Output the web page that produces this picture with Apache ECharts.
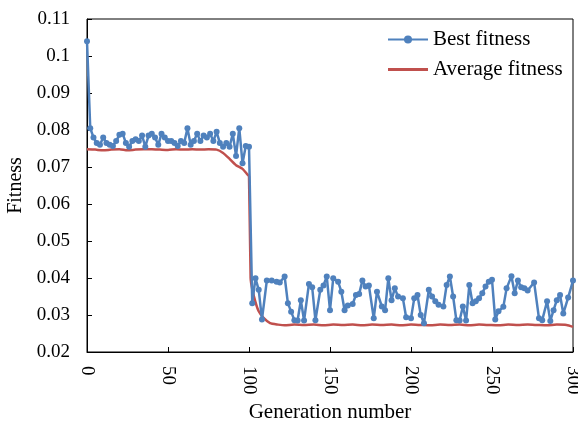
<!DOCTYPE html>
<html>
<head>
    <meta charset="utf-8">
    <title>Fitness</title>
    <script type="text/javascript" src="https://cdn.jsdelivr.net/npm/echarts@6/dist/echarts.min.js"></script>
</head>
<body style="margin:0">
    <div id="main" style="width: 578px;height:426px;"></div>
    <script type="text/javascript">
        // best fitness
        var bestGen = [0, 2, 4, 6, 8, 10, 12, 14, 16, 18, 20, 22, 24, 26, 28, 30, 32, 34, 36, 38, 40, 42, 44, 46, 48,
            50, 52, 54, 56, 58, 60, 62, 64, 66, 68, 70, 72, 74, 76, 78, 80, 82, 84, 86, 88, 90, 92, 94, 96, 98, 100,
            102, 104, 106, 108, 111, 114, 117, 119, 122, 124, 126, 128, 130, 132, 134, 137, 139, 141, 144, 146,
            148, 150, 152, 155, 157, 159, 161, 164, 166, 168, 170, 172, 174, 177, 179, 182, 184, 186, 188, 190, 192, 195, 197,
            200, 202, 204, 206, 208, 211, 213, 215, 217, 220, 222, 224, 226, 228, 230, 232, 234, 236, 238, 240, 242, 244, 246, 248,
            250, 252, 254, 257, 259, 262, 264, 266, 268, 270, 272, 276, 279, 281, 284, 286, 288, 290, 292, 294, 297, 300];
        var bestFit = [0.104, 0.0805, 0.078, 0.0765, 0.076, 0.078, 0.0765, 0.076, 0.0757, 0.077, 0.0787, 0.079, 0.0765, 0.0755, 0.077, 0.0775, 0.077, 0.0785, 0.0755, 0.0785, 0.079, 0.078, 0.076, 0.079, 0.078,
            0.077, 0.077, 0.0765, 0.0757, 0.077, 0.0765, 0.0805, 0.076, 0.077, 0.079, 0.077, 0.0785, 0.078, 0.079, 0.077, 0.0795, 0.0765, 0.0755, 0.0765, 0.0755, 0.079, 0.073, 0.0805, 0.071, 0.0757, 0.0755,
            0.0332, 0.0399, 0.0368, 0.0288, 0.0393, 0.0393, 0.039, 0.0388, 0.0404, 0.0332, 0.0309, 0.0286, 0.0285, 0.034, 0.0285, 0.0384, 0.0375, 0.0286, 0.0368, 0.038,
            0.0404, 0.0313, 0.0399, 0.039, 0.0363, 0.0313, 0.0326, 0.033, 0.0354, 0.0357, 0.0393, 0.0377, 0.038, 0.0291, 0.0363, 0.0323, 0.0313, 0.0399, 0.034, 0.0372, 0.035, 0.0345, 0.0294,
            0.0291, 0.0345, 0.0354, 0.030, 0.0278, 0.0368, 0.035, 0.0337, 0.0328, 0.0323, 0.0381, 0.0404, 0.035, 0.0286, 0.0285, 0.0323, 0.0285, 0.0381, 0.0332, 0.0337, 0.0345, 0.0359, 0.0377, 0.039,
            0.0395, 0.0288, 0.031, 0.0322, 0.0372, 0.0405, 0.0359, 0.0393, 0.0375, 0.0372, 0.0366, 0.0388, 0.0291, 0.0286, 0.0337, 0.0284, 0.0313, 0.034, 0.0354, 0.0304, 0.0347, 0.0393];

        // average fitness
        var avgGen = [0, 5, 10, 15, 20, 25, 30, 35, 40, 45, 50, 55, 60, 65, 70, 75, 80, 84, 88, 92, 96, 99, 100,
            101, 102, 104, 106, 109, 113, 118, 122, 128, 134, 140, 146, 152, 158, 164, 170, 176, 182, 188, 194,
            200, 206, 212, 218, 224, 230, 236, 242, 248, 254, 260, 266, 272, 278, 284, 290, 296, 300];
        var avgFit = [0.0748, 0.0747, 0.0745, 0.0747, 0.0748, 0.0745, 0.0747, 0.0748, 0.0748, 0.0747, 0.0746, 0.0748, 0.0747, 0.0748, 0.0747, 0.0748, 0.0747, 0.0738, 0.0722, 0.0705, 0.0695, 0.068, 0.0675,
            0.040, 0.037, 0.0335, 0.031, 0.0292, 0.0278, 0.0274, 0.0272, 0.0274, 0.0273, 0.0274, 0.0272, 0.0274, 0.0273, 0.0274, 0.0272, 0.0274, 0.0273, 0.0274, 0.0272,
            0.0274, 0.0273, 0.0272, 0.0274, 0.0273, 0.0274, 0.0272, 0.0274, 0.0273, 0.0272, 0.0274, 0.0273, 0.0274, 0.0273, 0.0272, 0.0274, 0.0273, 0.0268];

        var font = 'Liberation Serif';
        var myChart = echarts.init(document.getElementById('main'));

        var option = {
            animation: false,
            textStyle: { fontFamily: font },
            grid: {
                left: 87, right: 5, top: 19, bottom: 74,
                outerBoundsMode: 'none',
                show: true, borderColor: '#000', borderWidth: 1
            },
            legend: {
                orient: 'vertical',
                left: 382, top: 24,
                itemWidth: 40, itemHeight: 10, itemGap: 9,
                textStyle: { fontFamily: font, fontSize: 21, color: '#000' },
                data: [
                    { name: 'Best fitness' },
                    // plain red line, no dot
                    { name: 'Average fitness', icon: 'path://M0,0M0,3.6H40V6.4H0ZM40,10' }
                ]
            },
            xAxis: {
                type: 'value', min: 0, max: 300, interval: 50,
                name: 'Generation number', nameLocation: 'middle', nameGap: 48,
                nameTextStyle: { fontFamily: font, fontSize: 21, color: '#000' },
                splitLine: { show: false },
                axisLine: { lineStyle: { color: '#000' } },
                axisTick: { inside: true, length: 5, lineStyle: { color: '#000' } },
                axisLabel: { rotate: -90, fontFamily: font, fontSize: 19, color: '#000', margin: 14 }
            },
            yAxis: {
                type: 'value', min: 0.02, max: 0.11, interval: 0.01,
                name: 'Fitness', nameLocation: 'middle', nameGap: 58,
                nameTextStyle: { fontFamily: font, fontSize: 20, color: '#000' },
                splitLine: { show: false },
                axisLine: { show: true, lineStyle: { color: '#000' } },
                axisTick: { show: true, inside: true, length: 5, lineStyle: { color: '#000' } },
                axisLabel: {
                    fontFamily: font, fontSize: 19, color: '#000', margin: 17,
                    formatter: function (v) { return String(+v.toFixed(2)); }
                }
            },
            series: [{
                name: 'Best fitness',
                type: 'line',
                data: bestGen.map(function (g, i) { return [g, bestFit[i]]; }),
                symbol: 'circle', symbolSize: 6,
                itemStyle: { color: '#4f81bd' },
                lineStyle: { color: '#4f81bd', width: 2.5 },
                z: 3
            }, {
                name: 'Average fitness',
                type: 'line',
                data: avgGen.map(function (g, i) { return [g, avgFit[i]]; }),
                symbol: 'none',
                smooth: 0.2,
                itemStyle: { color: '#c0504d' },
                lineStyle: { color: '#c0504d', width: 2.5 },
                z: 2
            }]
        };
        myChart.setOption(option);
    </script>
</body>
</html>
